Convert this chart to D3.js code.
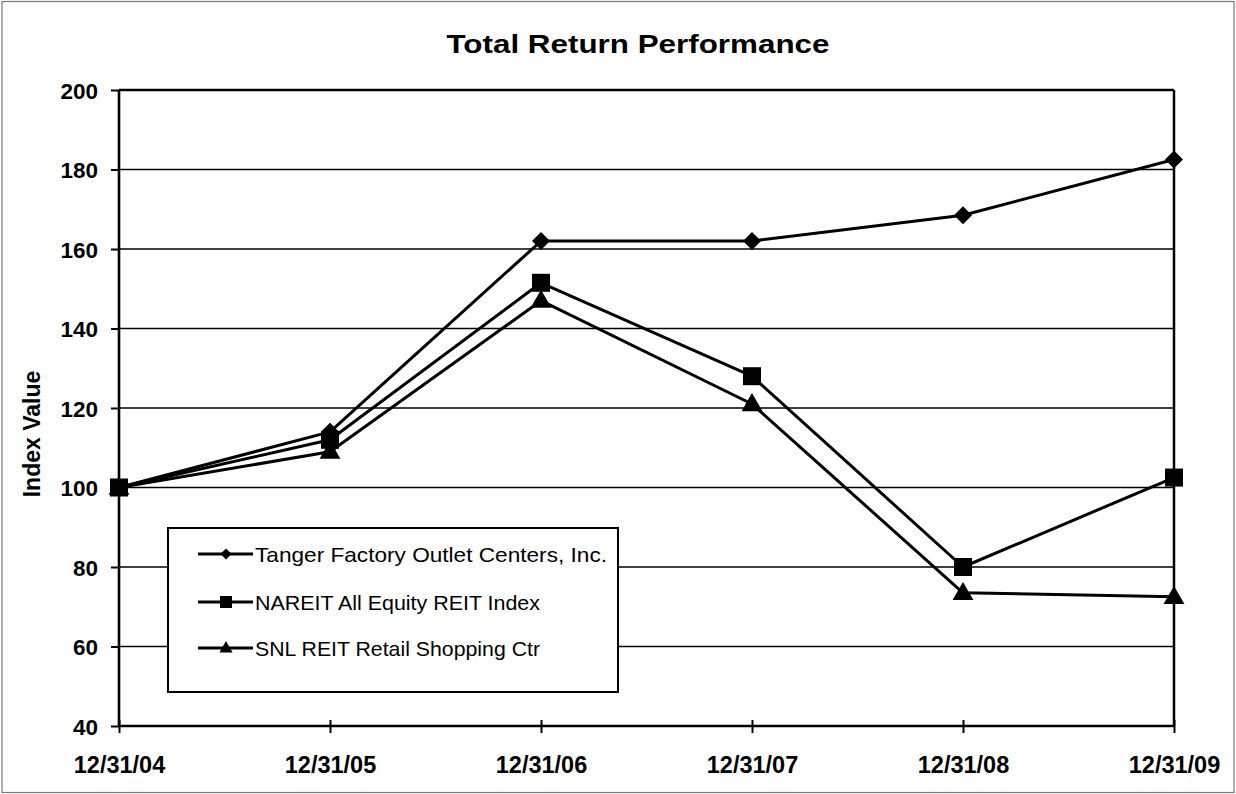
<!DOCTYPE html>
<html>
<head>
<meta charset="utf-8">
<script src="https://cdn.jsdelivr.net/npm/d3@7/dist/d3.min.js"></script>
<style>
  html, body { margin: 0; padding: 0; background: #fff; }
  svg { display: block; font-family: Arial, "Liberation Sans", sans-serif; }
</style>
</head>
<body>
<svg id="chart" width="1236" height="794"></svg>
<script>
const categories = ["12/31/04", "12/31/05", "12/31/06", "12/31/07", "12/31/08", "12/31/09"];
const tangerValues = [100, 114, 162, 162, 168.5, 182.5];
const nareitValues = [100, 112, 151.5, 128, 80, 102.5];
const snlValues = [100, 109, 147, 121, 73.5, 72.5];
const seriesNames = ["Tanger Factory Outlet Centers, Inc.", "NAREIT All Equity REIT Index", "SNL REIT Retail Shopping Ctr"];
const seriesMarkers = ["diamond", "square", "triangle"];
const yTicks = [40, 60, 80, 100, 120, 140, 160, 180, 200];
const titleText = "Total Return Performance";
const yTitleText = "Index Value";

const series = [tangerValues, nareitValues, snlValues].map((vals, i) => ({
  name: seriesNames[i], marker: seriesMarkers[i], values: vals
}));

const svg = d3.select("#chart");
const m = { left: 119, right: 1174, top: 90, bottom: 726 };
const FONT = "Arial, 'Liberation Sans', sans-serif";

// outer frame (scan border)
svg.append("rect").attr("x", 2).attr("y", 1.5).attr("width", 1232).attr("height", 791)
  .attr("fill", "none").attr("stroke", "#777").attr("stroke-width", 1.2);

const x = d3.scalePoint().domain(categories).range([m.left, m.right]);
const y = d3.scaleLinear().domain([40, 200]).range([m.bottom, m.top]);

// gridlines
svg.append("g").selectAll("line").data(yTicks.filter(t => t > 40)).join("line")
  .attr("x1", m.left).attr("x2", m.right)
  .attr("y1", d => y(d)).attr("y2", d => y(d))
  .attr("stroke", "#000").attr("stroke-width", d => d === 200 ? 2.5 : 1.6);

// right border of plot area
svg.append("line").attr("x1", m.right).attr("x2", m.right).attr("y1", m.top).attr("y2", m.bottom)
  .attr("stroke", "#000").attr("stroke-width", 2.5);

// y axis
const yAxis = svg.append("g").attr("transform", `translate(${m.left},0)`)
  .call(d3.axisLeft(y).tickValues(yTicks).tickSize(8).tickPadding(13).tickFormat(d3.format("d")));
yAxis.select(".domain").attr("stroke-width", 2.6).attr("d", `M0,${m.top}V${m.bottom}`);
yAxis.selectAll(".tick line").attr("stroke-width", 2);
yAxis.selectAll("text").attr("font-size", 22.5).attr("font-weight", "bold").attr("fill", "#000")
  .attr("font-family", FONT).attr("dy", "0.36em");

// x axis
const xAxis = svg.append("g").attr("transform", `translate(0,${m.bottom})`)
  .call(d3.axisBottom(x).tickSize(0).tickPadding(0));
xAxis.select(".domain").attr("stroke-width", 2.6).attr("d", `M${m.left},0H${m.right}`);
xAxis.selectAll(".tick").append("line").attr("y1", -6).attr("y2", 7)
  .attr("stroke", "#000").attr("stroke-width", 2);
xAxis.selectAll("text").attr("font-size", 23.5).attr("font-weight", "bold").attr("fill", "#000")
  .attr("font-family", FONT).attr("y", 47).attr("dy", 0);

// title
svg.append("text").attr("x", 638).attr("y", 53).attr("text-anchor", "middle")
  .attr("font-size", 26).attr("font-weight", "bold")
  .attr("textLength", 383).attr("lengthAdjust", "spacingAndGlyphs").text(titleText);

// y title
svg.append("text").attr("transform", "translate(40,434) rotate(-90)").attr("text-anchor", "middle")
  .attr("font-size", 23).attr("font-weight", "bold").text(yTitleText);

// marker generator
function markerPath(type, s) {
  if (type === "diamond") return `M0,${-s}L${s},0L0,${s}L${-s},0Z`;
  if (type === "square") return `M${-s},${-s}H${s}V${s}H${-s}Z`;
  return `M0,${-s * 1.15}L${s * 1.1},${s * 0.75}H${-s * 1.1}Z`;
}
const markerSize = { diamond: 9, square: 9, triangle: 9.5 };

const line = d3.line().x((d, i) => x(categories[i])).y(d => y(d));

// draw lines in reverse so Tanger is on top
series.slice().reverse().forEach(s => {
  const g = svg.append("g");
  g.append("path").attr("d", line(s.values)).attr("fill", "none")
    .attr("stroke", "#000").attr("stroke-width", 3).attr("stroke-linejoin", "round");
  g.selectAll("path.mk").data(s.values).join("path").attr("class", "mk")
    .attr("transform", (d, i) => `translate(${x(categories[i])},${y(d)})`)
    .attr("d", markerPath(s.marker, markerSize[s.marker])).attr("fill", "#000");
});

// legend
const lg = svg.append("g");
lg.append("rect").attr("x", 168).attr("y", 528).attr("width", 450).attr("height", 164)
  .attr("fill", "#fff").attr("stroke", "#000").attr("stroke-width", 2);
const rowY = [554, 602, 648];
const legSize = { diamond: 5.5, square: 6, triangle: 6 };
const legLen = [352, 285, 285];
series.forEach((s, i) => {
  const ry = rowY[i];
  lg.append("line").attr("x1", 198).attr("x2", 253).attr("y1", ry).attr("y2", ry)
    .attr("stroke", "#000").attr("stroke-width", 3);
  lg.append("path").attr("transform", `translate(226,${ry})`)
    .attr("d", markerPath(s.marker, legSize[s.marker])).attr("fill", "#000");
  lg.append("text").attr("x", 255).attr("y", ry).attr("dy", "0.36em")
    .attr("font-size", 21).attr("textLength", legLen[i]).attr("lengthAdjust", "spacingAndGlyphs")
    .text(s.name);
});
</script>
</body>
</html>
